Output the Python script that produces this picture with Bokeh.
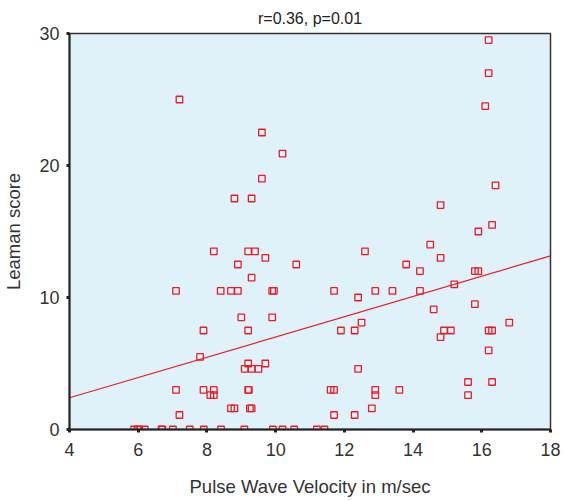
from bokeh.plotting import figure
from bokeh.embed import file_html
from bokeh.resources import INLINE
from bokeh.models import Range1d, FixedTicker, Title

pwv = [7.2, 9.6, 10.2, 9.6, 8.8, 9.3, 16.2, 16.2, 16.1, 16.4, 14.8, 16.3, 15.9,
       8.2, 9.2, 9.4, 9.7, 8.9, 10.6, 9.3, 7.1, 8.4, 8.7, 8.9, 9.9, 9.95,
       9.0, 9.9, 7.9, 9.2, 7.8, 9.2, 9.1, 9.3, 9.5, 9.7, 7.1, 7.9, 8.2, 8.1, 8.2,
       9.2, 9.22, 8.7, 8.8, 9.25, 9.3, 7.2,
       5.88, 5.98, 6.03, 6.19, 6.68, 6.70, 7.01, 7.50, 7.91, 8.41, 9.09, 9.92,
       10.2, 10.54, 11.2, 11.42,
       14.5, 12.6, 14.8, 13.8, 14.2, 15.8, 15.9, 15.2, 11.7, 12.9, 13.4, 14.2,
       12.4, 15.8, 14.6, 12.5, 16.8, 11.9, 12.3, 14.9, 15.1, 16.2, 16.3, 14.8,
       16.2, 12.4, 15.6, 16.3, 15.6, 11.6, 11.7, 12.9, 12.9, 13.6, 12.8, 11.7, 12.3]
leaman = [25.0, 22.5, 20.9, 19.0, 17.5, 17.5, 29.5, 27.0, 24.5, 18.5, 17.0, 15.5, 15.0,
          13.5, 13.5, 13.5, 13.0, 12.5, 12.5, 11.5, 10.5, 10.5, 10.5, 10.5, 10.5, 10.5,
          8.5, 8.5, 7.5, 7.5, 5.5, 5.0, 4.6, 4.6, 4.6, 5.0, 3.0, 3.0, 3.0, 2.6, 2.6,
          3.0, 3.0, 1.6, 1.6, 1.6, 1.6, 1.1,
          0, 0, 0, 0, 0, 0, 0, 0, 0, 0, 0, 0,
          0, 0, 0, 0,
          14.0, 13.5, 13.0, 12.5, 12.0, 12.0, 12.0, 11.0, 10.5, 10.5, 10.5, 10.5,
          10.0, 9.5, 9.1, 8.1, 8.1, 7.5, 7.5, 7.5, 7.5, 7.5, 7.5, 7.0,
          6.0, 4.6, 3.6, 3.6, 2.6, 3.0, 3.0, 3.0, 2.6, 3.0, 1.6, 1.1, 1.1]

fit_slope = 0.768
fit_intercept = -0.67
x_ticks = [4, 6, 8, 10, 12, 14, 16, 18]
y_ticks = [0, 10, 20, 30]
title_text = "r=0.36, p=0.01"
x_label = "Pulse Wave Velocity in m/sec"
y_label = "Leaman score"

RED = "#ec1c24"
FONT = "Liberation Sans"

p = figure(width=563, height=500, output_backend="svg", toolbar_location=None,
           x_range=Range1d(4, 18), y_range=Range1d(0, 30),
           min_border_left=68, min_border_right=13, min_border_top=33, min_border_bottom=71)
p.title = Title(text=title_text, align="center", text_font=FONT, text_font_size="16px",
                text_font_style="normal", text_color="#222222", offset=0, standoff=13)
p.background_fill_color = "#dff2f9"
p.border_fill_color = "white"
p.outline_line_color = "#333333"
p.outline_line_width = 1.5
p.grid.visible = False

fx = [x_ticks[0], x_ticks[-1]]
fy = [fit_intercept + fit_slope * v for v in fx]
p.line(fx, fy, line_color=RED, line_width=1.2)
p.scatter(pwv, leaman, marker="square", size=6.5, fill_color=None, line_color=RED, line_width=1.3)

for ax in (p.xaxis[0], p.yaxis[0]):
    ax.axis_line_color = "#222222"
    ax.axis_line_width = 2
    ax.major_tick_line_color = "#222222"
    ax.major_tick_line_width = 3
    ax.major_tick_out = 3
    ax.major_tick_in = 0
    ax.minor_tick_line_color = None
    ax.major_label_text_font = FONT
    ax.major_label_text_font_size = "18px"
    ax.major_label_text_color = "#333333"
    ax.axis_label_text_font = FONT
    ax.axis_label_text_font_size = "18.5px"
    ax.axis_label_text_font_style = "normal"
    ax.axis_label_text_color = "#333333"

p.xaxis.ticker = FixedTicker(ticks=x_ticks)
p.yaxis.ticker = FixedTicker(ticks=y_ticks)
p.xaxis.axis_label = x_label
p.yaxis.axis_label = y_label
p.xaxis.major_label_standoff = 10
p.xaxis.axis_label_standoff = 17
p.yaxis.major_label_standoff = 7
p.yaxis.axis_label_standoff = 12

open("out.html", "w").write(file_html(p, INLINE))
